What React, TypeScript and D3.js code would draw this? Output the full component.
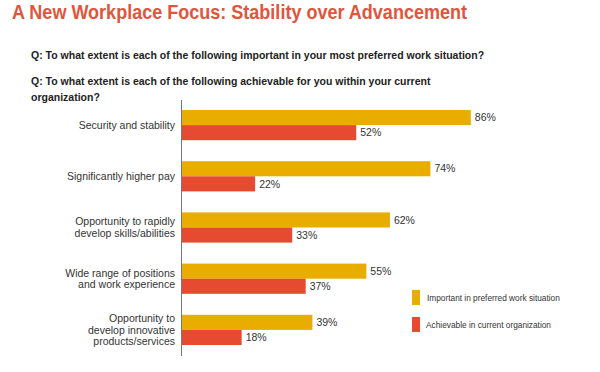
import React, {useEffect, useRef} from 'react';
import * as d3 from 'd3';

const categories = [
    ['Security and stability'],
    ['Significantly higher pay'],
    ['Opportunity to rapidly', 'develop skills/abilities'],
    ['Wide range of positions', 'and work experience'],
    ['Opportunity to', 'develop innovative', 'products/services']
];
const important = [86, 74, 62, 55, 39];
const achievable = [52, 22, 33, 37, 18];
const seriesNames = ['Important in preferred work situation', 'Achievable in current organization'];
const colors = ['#e9ad00', '#e64b31'];

function App() {
    const ref = useRef<SVGSVGElement>(null);
    const width = 600;
    const height = 372;

    useEffect(() => {
        const svg = d3.select(ref.current);
        svg.selectAll('*').remove();
        const font = 'Liberation Sans, Arial, sans-serif';

        // title + questions
        svg.append('text')
            .attr('x', 12).attr('y', 19)
            .attr('font-family', font).attr('font-size', 19.5).attr('font-weight', 'bold')
            .attr('textLength', 455).attr('lengthAdjust', 'spacingAndGlyphs')
            .attr('fill', '#e0553b')
            .text('A New Workplace Focus: Stability over Advancement');

        const questions = [
            {y: 59, t: 'Q: To what extent is each of the following important in your most preferred work situation?'},
            {y: 85, t: 'Q: To what extent is each of the following achievable for you within your current'},
            {y: 101, t: 'organization?'}
        ];
        svg.selectAll('text.q').data(questions).enter().append('text')
            .attr('class', 'q')
            .attr('x', 31).attr('y', (d) => d.y)
            .attr('font-family', font).attr('font-size', 10.5).attr('font-weight', 'bold')
            .attr('fill', '#222')
            .text((d) => d.t);

        const x0 = 181;
        const x = d3.scaleLinear().domain([0, 100]).range([x0, x0 + 337]);
        // step 51.2px, bar pair 30px
        const y = d3.scaleBand<number>()
            .domain(d3.range(categories.length))
            .range([110, 345])
            .paddingInner(21 / 51.2)
            .paddingOuter(0);
        const bh = y.bandwidth() / 2;

        const rows = categories.map((c, i) => ({c, i, vals: [important[i], achievable[i]]}));
        const g = svg.selectAll('g.row').data(rows).enter().append('g')
            .attr('class', 'row')
            .attr('transform', (d) => `translate(0, ${y(d.i)})`);

        g.selectAll('rect').data((d) => d.vals).enter().append('rect')
            .attr('x', x0)
            .attr('y', (_, j) => j * bh)
            .attr('width', (v) => x(v) - x0)
            .attr('height', bh)
            .attr('fill', (_, j) => colors[j]);

        g.selectAll('text.val').data((d) => d.vals).enter().append('text')
            .attr('class', 'val')
            .attr('x', (v) => x(v) + 4)
            .attr('y', (_, j) => j * bh + bh / 2)
            .attr('dy', '0.35em')
            .attr('font-family', font).attr('font-size', 10.5)
            .attr('fill', '#333')
            .text((v) => v + '%');

        // category labels
        g.each(function (d) {
            const n = d.c.length;
            const lh = 11.5;
            d3.select(this).selectAll('text.cat').data(d.c).enter().append('text')
                .attr('class', 'cat')
                .attr('x', 175)
                .attr('y', (_, k) => y.bandwidth() / 2 + (k - (n - 1) / 2) * lh)
                .attr('dy', '0.35em')
                .attr('text-anchor', 'end')
                .attr('font-family', font).attr('font-size', 10.5)
                .attr('fill', '#333')
                .text((t) => t);
        });

        // axis line
        svg.append('line')
            .attr('x1', x0 + 0.5).attr('x2', x0 + 0.5)
            .attr('y1', 100).attr('y2', 356)
            .attr('stroke', '#777').attr('stroke-width', 1);

        // legend
        const legend = svg.selectAll('g.leg').data(seriesNames).enter().append('g')
            .attr('class', 'leg')
            .attr('transform', (_, i) => `translate(412, ${290 + i * 27})`);
        legend.append('rect')
            .attr('width', 8).attr('height', 15)
            .attr('fill', (_, i) => colors[i]);
        legend.append('text')
            .attr('x', (_, i) => (i === 0 ? 15 : 14))
            .attr('y', 8)
            .attr('dy', '0.35em')
            .attr('font-family', font).attr('font-size', 8.3)
            .attr('fill', '#333')
            .text((d) => d);
    }, []);

    return (
        <svg ref={ref} width={width} height={height}
             style={{position: 'absolute', left: 0, top: 0, background: '#fff'}}/>
    );
}

export default App;
